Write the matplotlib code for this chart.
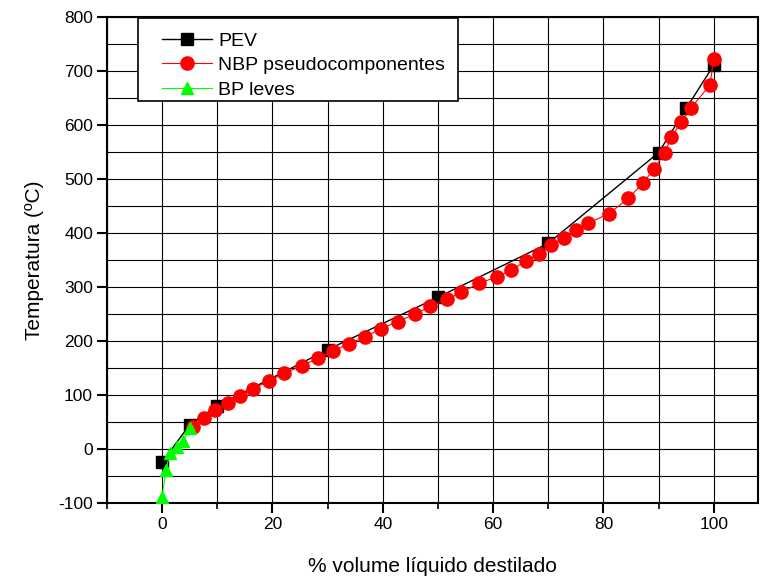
import matplotlib.pyplot as plt
from matplotlib.ticker import MultipleLocator
from matplotlib.patches import Rectangle

plt.rcParams['font.family'] = ['Liberation Sans', 'DejaVu Sans']
plt.rcParams['axes.unicode_minus'] = False

# data
pev_x = [0, 5, 10, 30, 50, 70, 90, 95, 100]
pev_y = [-24, 45, 80, 184, 281, 381, 549, 631, 711]

nbp_x = [5.5, 7.6, 9.6, 11.9, 14.1, 16.5, 19.4, 22.1, 25.3, 28.2,
         30.9, 33.8, 36.8, 39.6, 42.7, 45.9, 48.6, 51.6, 54.2, 57.5,
         60.7, 63.3, 66.0, 68.3, 70.5, 72.8, 75.0, 77.2, 81.0, 84.5,
         87.1, 89.1, 91.1, 92.3, 94.1, 95.9, 99.3, 100.0]
nbp_y = [40, 58, 72, 85, 98, 112, 126, 140, 154, 168,
         182, 194, 208, 222, 236, 250, 264, 277, 290, 307,
         319, 331, 349, 361, 378, 391, 405, 418, 436, 464,
         492, 518, 549, 577, 606, 632, 674, 723]

bp_x = [0, 0.7, 1.4, 2.6, 3.8, 5.0]
bp_y = [-88, -39, -7, 4, 14, 39]

fig = plt.figure(figsize=(7.61, 5.82), dpi=100)
ax = fig.add_axes([0.1406, 0.1357, 0.8554, 0.8351])

ax.plot(pev_x, pev_y, color='black', lw=1.0, marker='s', ms=9,
        mfc='black', mec='black', label='PEV', zorder=3)
ax.plot(nbp_x, nbp_y, color='red', lw=0.8, marker='o', ms=9.5,
        mfc='red', mec='red', label='NBP pseudocomponentes', zorder=4)
ax.plot(bp_x, bp_y, color='#00ff00', lw=0.8, marker='^', ms=9,
        mfc='#00ff00', mec='#00ff00', label='BP leves', zorder=5)

ax.set_xlim(-10, 108)
ax.set_ylim(-100, 800)
ax.xaxis.set_major_locator(MultipleLocator(20))
ax.xaxis.set_minor_locator(MultipleLocator(10))
ax.yaxis.set_major_locator(MultipleLocator(100))
ax.yaxis.set_minor_locator(MultipleLocator(50))

ax.grid(True, which='both', color='black', lw=0.8)
ax.set_axisbelow(True)

ax.tick_params(which='major', direction='out', length=7, width=1.5,
               labelsize=12.5, pad=3)
ax.tick_params(which='minor', direction='out', length=4, width=1.2)
ax.tick_params(axis='y', which='minor', length=0)
for s in ax.spines.values():
    s.set_linewidth(1.5)

ax.set_xlabel('% volume líquido destilado', fontsize=15, labelpad=18)
ax.set_ylabel('Temperatura (ºC)', fontsize=15, labelpad=10)

# legend frame drawn separately so the entries sit where they do in the original
box = Rectangle((0.1813, 0.8265), 0.4205, 0.1426, transform=fig.transFigure,
                facecolor='white', edgecolor='black', lw=1.2, zorder=6)
ax.add_patch(box)

leg = ax.legend(loc='upper left', bbox_to_anchor=(0.2129, 0.9450),
                bbox_transform=fig.transFigure, borderaxespad=0,
                fontsize=14, handlelength=2.58, handletextpad=0.3,
                labelspacing=0.36, borderpad=0, frameon=False)
leg.set_zorder(7)

plt.savefig('out.png', dpi=100)
